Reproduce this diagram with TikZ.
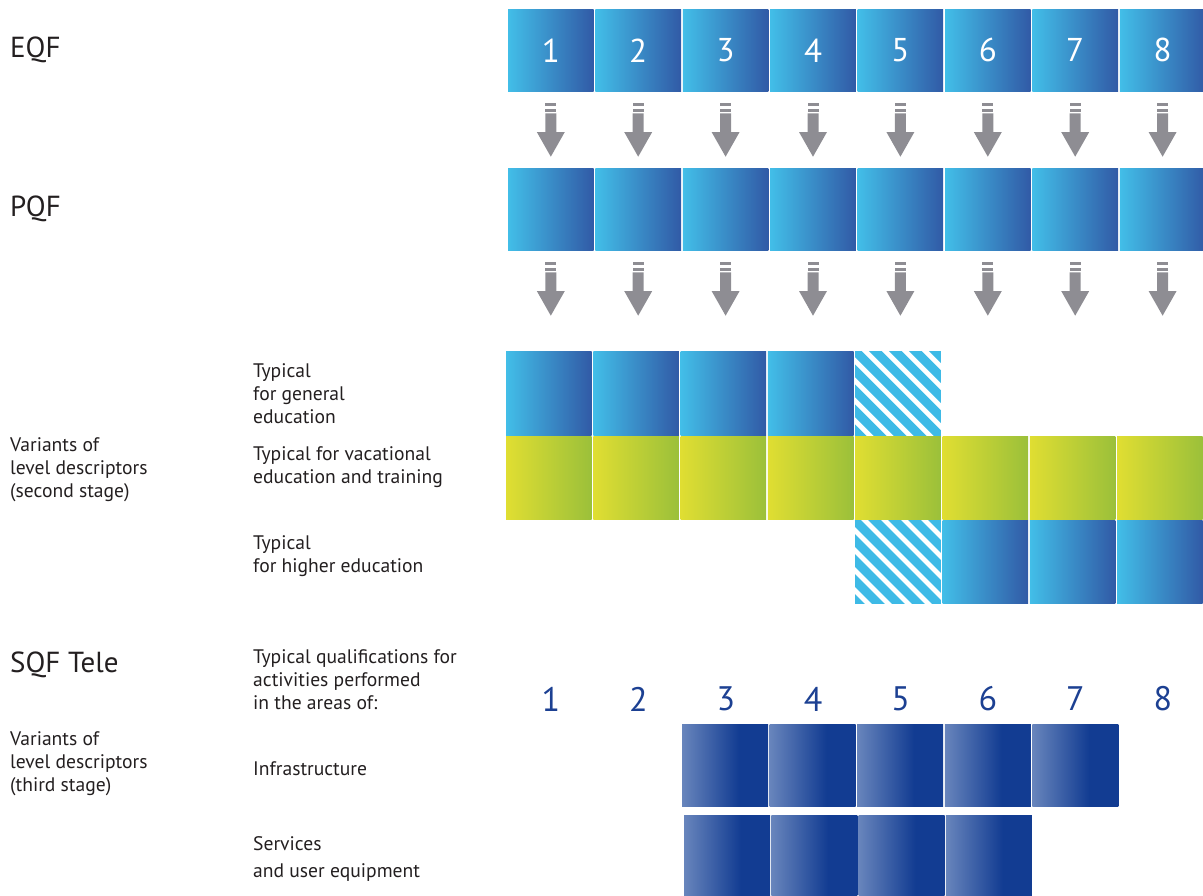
\documentclass[tikz,border=0pt]{standalone}
\usepackage{fontspec}
\setmainfont{PT Sans}
\usetikzlibrary{calc}
\definecolor{bL}{RGB}{66,190,232}
\definecolor{bR}{RGB}{49,90,166}
\definecolor{gL}{RGB}{224,222,50}
\definecolor{gR}{RGB}{155,192,58}
\definecolor{dL}{RGB}{104,133,188}
\definecolor{dR}{RGB}{18,60,146}
\definecolor{arrgray}{RGB}{142,141,147}
\definecolor{hatchblue}{RGB}{62,186,230}
\definecolor{numblue}{RGB}{28,64,146}
\definecolor{txt}{RGB}{35,31,32}
\pgfdeclarehorizontalshading{darkblue}{100bp}{color(0bp)=(dL); color(25bp)=(dL); color(58bp)=(dR); color(100bp)=(dR)}
\tikzset{
  cell/.style={rectangle, inner sep=0pt, outer sep=0pt, anchor=north west,
    minimum width=85.6pt, minimum height=82.7pt, text=white,
    font=\fontsize{33}{40}\selectfont},
  bluecell/.style={cell, left color=bL, right color=bR},
  greencell/.style={cell, left color=gL, right color=gR},
  darkcell/.style={cell, shading=darkblue},
  lbl/.style={anchor=west, align=left, inner sep=0pt, text=txt,
    font=\fontsize{19.6}{23}\selectfont},
  biglbl/.style={anchor=base west, inner sep=0pt, text=txt,
    font=\fontsize{29}{34}\selectfont},
  levelnum/.style={inner sep=0pt, text=numblue, font=\fontsize{34}{40}\selectfont},
  arrowshape/.style={fill=arrgray},
  stripe/.style={draw=hatchblue, line width=9pt}
}
\begin{document}
\begin{tikzpicture}[x=1pt,y=-1pt]
\useasboundingbox (0,0) rectangle (1203,895);

% left labels
\node[biglbl] (eqf) at (10,57) {EQF};
\node[biglbl] (pqf) at (10,216) {PQF};
\node[biglbl] (sqf) at (10,672) {SQF Tele};
\node[lbl] (var2) at (10,470) {Variants of\\level descriptors\\(second stage)};
\node[lbl] (var3) at (10,764) {Variants of\\level descriptors\\(third stage)};

% middle labels
\node[lbl] (tgen) at (253,394) {Typical\\for general\\education};
\node[lbl] (tvoc) at (253,467.5) {Typical for vacational\\education and training};
\node[lbl] (thigh) at (253,556.5) {Typical\\for higher education};
\node[lbl] (tqual) at (253,679.5) {Typical qualifications for\\activities performed\\in the areas of:};
\node[lbl] (tinfra) at (253,769) {Infrastructure};
\node[lbl] (tserv) at (253,858.5) {Services\\[4pt]and user equipment};

% EQF and PQF rows
\foreach \i in {1,...,8} {
  \node[bluecell] (e\i) at ({508+87.4*(\i-1)},9) {\i};
  \node[bluecell] (p\i) at ({508+87.4*(\i-1)},168) {};
}

% arrows
\foreach \src in {e,p} {
  \foreach \i in {1,...,8} {
    \begin{scope}[shift={(\src\i.south)}]
      \fill[arrowshape] (-5.5,11.3) rectangle (5.5,14);
      \fill[arrowshape] (-5.5,17.3) rectangle (5.5,19.8);
      \fill[arrowshape] (-5.5,21.6) -- (5.5,21.6) -- (5.5,40.3) -- (14,40.3)
        -- (0,65) -- (-14,40.3) -- (-5.5,40.3) -- cycle;
    \end{scope}
  }
}

% second stage
\foreach \i in {1,...,4}
  \node[bluecell, minimum height=84pt] (ga\i) at ({506+87.3*(\i-1)},351) {};
\node[cell, minimum height=84pt] (h1) at (855.2,351) {};
\foreach \i in {1,...,8}
  \node[greencell, minimum height=83pt] (vo\i) at ({506+87.3*(\i-1)},436.3) {};
\node[cell, minimum height=83pt] (h2) at (855.2,520.6) {};
\foreach \i in {6,7,8}
  \node[bluecell, minimum height=83pt] (he\i) at ({506+87.3*(\i-1)},520.6) {};

\foreach \h in {h1,h2} {
  \begin{scope}
    \clip (\h.north west) rectangle (\h.south east);
    \foreach \k in {-5,...,9}
      \draw[stripe] ($(\h.north west)+(20*\k-100,-100)$) -- ++(300,300);
  \end{scope}
}

% level numbers
\foreach \i in {1,...,8}
  \node[levelnum] (n\i) at ({551+87.4*(\i-1)},699) {\i};

% third stage
\foreach \i in {3,...,7}
  \node[darkcell, minimum width=86pt] (in\i) at ({682+87.6*(\i-3)},724) {};
\foreach \i in {3,...,6}
  \node[darkcell, minimum width=86pt, minimum height=81pt] (se\i) at ({684+87.3*(\i-3)},815) {};
\end{tikzpicture}
\end{document}
